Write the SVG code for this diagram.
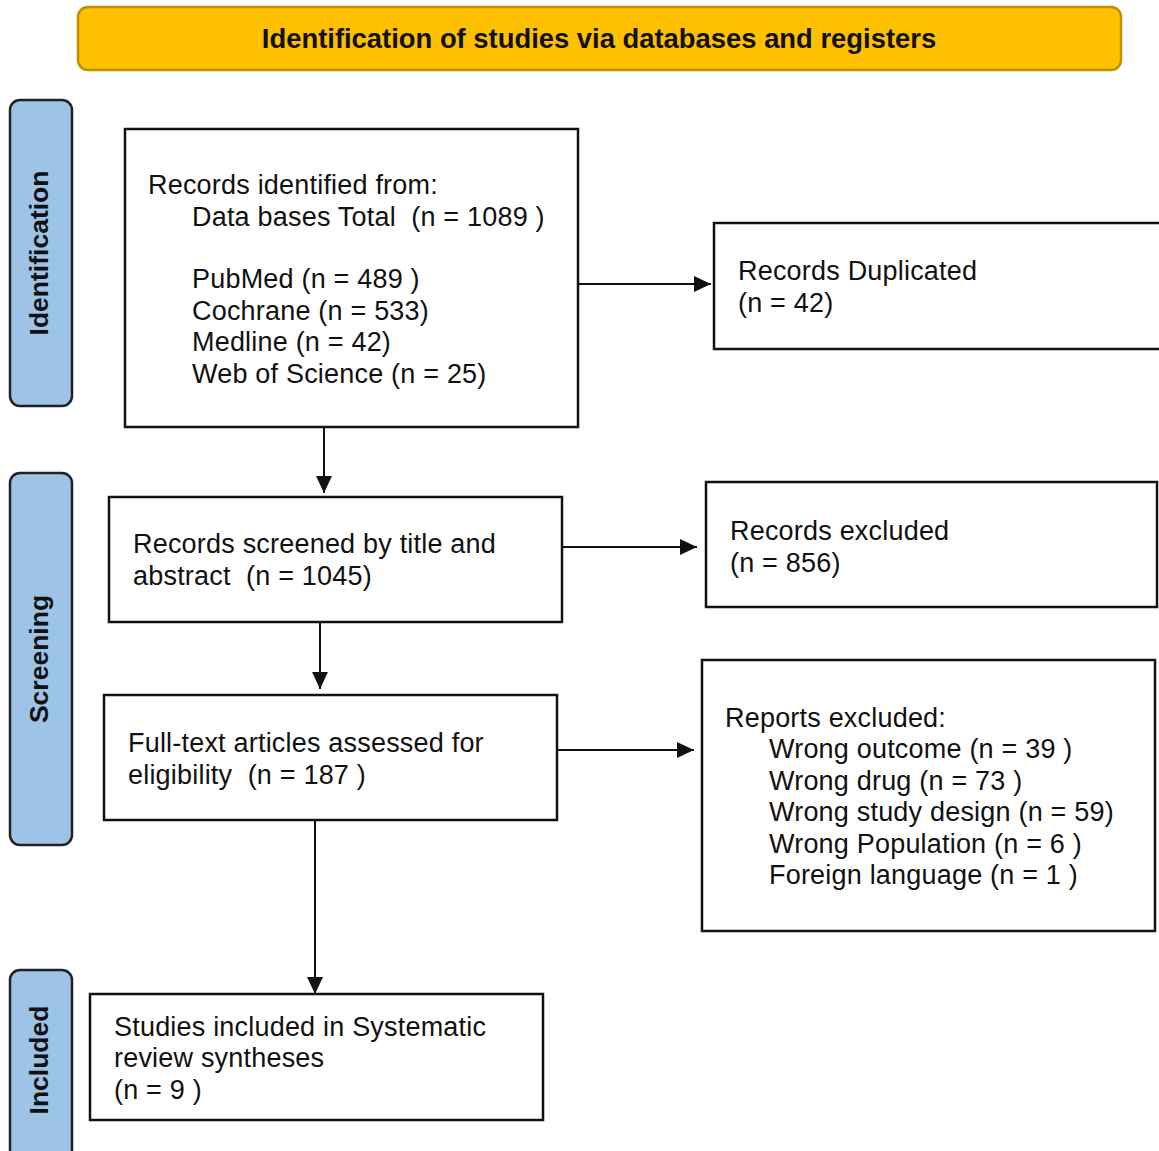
<svg xmlns="http://www.w3.org/2000/svg" width="1159" height="1151" viewBox="0 0 1159 1151">
<style>
.box{fill:#fff;stroke:#111;stroke-width:2.5}
.side{fill:#9DC3E6;stroke:#222;stroke-width:2.5}
.t{font-family:"Liberation Sans",Arial,sans-serif;font-size:27px;letter-spacing:0.2px;fill:#111;white-space:pre}
.sl{font-family:"Liberation Sans",Arial,sans-serif;font-size:26.5px;font-weight:bold;fill:#111;text-anchor:middle}
.hd{font-family:"Liberation Sans",Arial,sans-serif;font-size:27.4px;font-weight:bold;fill:#111;text-anchor:middle}
.c{stroke:#111;stroke-width:2;fill:none;marker-end:url(#ah)}
</style>
<defs>
<marker id="ah" markerWidth="17" markerHeight="16" refX="17" refY="8" orient="auto" markerUnits="userSpaceOnUse">
<path d="M0,0 L17,8 L0,16 Z" fill="#111"/>
</marker>
</defs>
<rect width="1159" height="1151" fill="#fff"/>
<g id="header">
<rect x="78" y="7" width="1043" height="63" rx="10" fill="#FFC000" stroke="#BF9000" stroke-width="2.5"/>
<text class="hd" x="599" y="48">Identification of studies via databases and registers</text>
</g>
<g id="lane-identification">
<rect class="side" x="10" y="100" width="62" height="306" rx="10"/>
<text class="sl" transform="translate(48,253) rotate(-90)">Identification</text>
</g>
<g id="lane-screening">
<rect class="side" x="10" y="473" width="62" height="372" rx="10"/>
<text class="sl" transform="translate(48,659) rotate(-90)">Screening</text>
</g>
<g id="lane-included">
<rect class="side" x="10" y="970" width="62" height="195" rx="10"/>
<text class="sl" transform="translate(48,1060) rotate(-90)">Included</text>
</g>
<g id="connectors">
<line class="c" x1="324" y1="427" x2="324" y2="493"/>
<line class="c" x1="576" y1="284" x2="711" y2="284"/>
<line class="c" x1="562" y1="547" x2="697" y2="547"/>
<line class="c" x1="320" y1="622" x2="320" y2="689"/>
<line class="c" x1="557" y1="750" x2="694" y2="750"/>
<line class="c" x1="315" y1="817" x2="315" y2="994"/>
</g>
<g id="records-identified">
<rect class="box" x="125" y="129" width="453" height="298"/>
<text class="t" x="148" y="194">Records identified from:</text>
<text class="t" x="192" y="226">Data bases Total  (n = 1089 )</text>
<text class="t" x="192" y="288">PubMed (n = 489 )</text>
<text class="t" x="192" y="320">Cochrane (n = 533)</text>
<text class="t" x="192" y="351">Medline (n = 42)</text>
<text class="t" x="192" y="383">Web of Science (n = 25)</text>
</g>
<g id="records-duplicated">
<rect class="box" x="714" y="223" width="460" height="126"/>
<text class="t" x="738" y="280">Records Duplicated</text>
<text class="t" x="738" y="312">(n = 42)</text>
</g>
<g id="records-screened">
<rect class="box" x="109" y="497" width="453" height="125"/>
<text class="t" x="133" y="553">Records screened by title and</text>
<text class="t" x="133" y="585">abstract  (n = 1045)</text>
</g>
<g id="records-excluded">
<rect class="box" x="706" y="482" width="451" height="125"/>
<text class="t" x="730" y="540">Records excluded</text>
<text class="t" x="730" y="572">(n = 856)</text>
</g>
<g id="full-text">
<rect class="box" x="104" y="695" width="453" height="125"/>
<text class="t" x="128" y="752">Full-text articles assessed for</text>
<text class="t" x="128" y="784">eligibility  (n = 187 )</text>
</g>
<g id="reports-excluded">
<rect class="box" x="702" y="660" width="453" height="271"/>
<text class="t" x="725" y="727">Reports excluded:</text>
<text class="t" x="769" y="758">Wrong outcome (n = 39 )</text>
<text class="t" x="769" y="790">Wrong drug (n = 73 )</text>
<text class="t" x="769" y="821">Wrong study design (n = 59)</text>
<text class="t" x="769" y="853">Wrong Population (n = 6 )</text>
<text class="t" x="769" y="884">Foreign language (n = 1 )</text>
</g>
<g id="studies-included">
<rect class="box" x="90" y="994" width="453" height="126"/>
<text class="t" x="114" y="1036">Studies included in Systematic</text>
<text class="t" x="114" y="1067">review syntheses</text>
<text class="t" x="114" y="1099">(n = 9 )</text>
</g>
</svg>
